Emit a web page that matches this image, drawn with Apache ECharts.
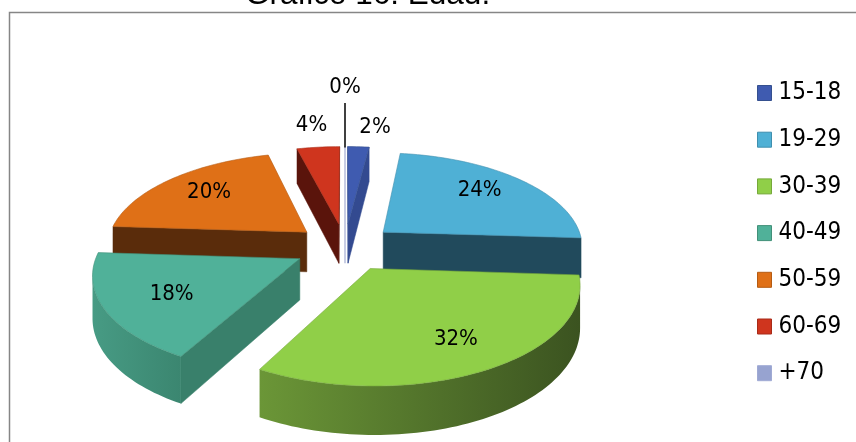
<!DOCTYPE html>
<html>
<head>
<meta charset="utf-8">
<script src="https://cdn.jsdelivr.net/npm/echarts@6/dist/echarts.min.js"></script>
<style>
html, body { margin: 0; padding: 0; background: #fff; }
#chart { width: 856px; height: 442px; }
</style>
</head>
<body>
<div id="chart"></div>
<script>
const categories = ['15-18', '19-29', '30-39', '40-49', '50-59', '60-69', '+70'];
const values = [2, 24, 32, 18, 20, 4, 0];

const topColors = ['#3f5bb0', '#4fb0d5', '#90cf48', '#50b199', '#df7017', '#cf351e', '#97a3d0'];
const edgeColors = ['#35508f', '#3f8fae', '#76a83a', '#429079', '#b55b12', '#a82b18', '#a0aad4'];
const wallColors = ['#334a90', '#214a5c', '#3d5620', '#39806b', '#5a2c0b', '#5a140b', '#c8cde4'];
const arcWallLeft = ['#334a90', '#214a5c', '#6b9637', '#479b84', '#5a2c0b', '#5a140b', '#c8cde4'];
const arcWallRight = ['#334a90', '#214a5c', '#3b5320', '#3b8670', '#5a2c0b', '#5a140b', '#c8cde4'];
// radial distance of each percent label, with a small pixel nudge
const labelRadius = [330, 187, 188, 180, 195, 335, 440];
const labelNudge = [[13, 7], [0, -4], [7, 3], [-3, 3], [4, 0], [1, 6], [0, 0]];
// draw order, back to front
const drawOrder = [6, 0, 5, 1, 4, 3, 2];

// fake 3d: plane coords -> screen with a bit of perspective
const cx = 345, cy = 247, R = 198, explode = 50, tilt = 0.47, persp = 0.0007, depth = 40;
function project(px, py, z) {
  const s = 1 / (1 - (py + 19) * persp);
  return [cx + px * s, cy + py * tilt * s + (z ? depth * s : 0)];
}

const total = values.reduce((a, b) => a + b, 0);
let acc = 0;
const slices = values.map(v => {
  const start = acc / total * Math.PI * 2;
  acc += v;
  return { start, end: acc / total * Math.PI * 2 };
});

function renderSlice(i, api) {
  const { start, end } = slices[i];
  const mid = (start + end) / 2;
  const ox = Math.sin(mid) * explode, oy = -Math.cos(mid) * explode;
  const at = (a, r, z) => project(ox + Math.sin(a) * r, oy - Math.cos(a) * r, z);
  const apexTop = at(0, 0, false), apexBot = at(0, 0, true);
  const children = [];

  const arcTop = [], arcBot = [];
  const steps = Math.max(2, Math.round((end - start) * 40));
  for (let k = 0; k <= steps; k++) {
    const a = start + (end - start) * k / steps;
    arcTop.push(at(a, R, false));
    arcBot.push(at(a, R, true));
  }

  if (values[i] === 0) {
    // empty slice only leaves a thin line
    children.push({
      type: 'line',
      shape: { x1: arcTop[0][0], y1: arcTop[0][1], x2: apexBot[0], y2: apexBot[1] },
      style: { stroke: wallColors[i], lineWidth: 2 }
    });
  } else {
    const quad = (a, b, c, d) => ({
      type: 'polygon',
      shape: { points: [a, b, c, d] },
      style: { fill: wallColors[i], stroke: wallColors[i], lineWidth: 0.5 }
    });
    const first = arcTop[0], last = arcTop[arcTop.length - 1];
    if (first[0] < apexTop[0]) children.push(quad(apexTop, first, arcBot[0], apexBot));
    if (apexTop[0] < last[0]) children.push(quad(last, apexTop, apexBot, arcBot[arcBot.length - 1]));

    // outer wall, only where the arc runs right to left
    const vt = [], vb = [];
    for (let k = 0; k < arcTop.length; k++) {
      const goingLeft = (k > 0 && arcTop[k][0] < arcTop[k - 1][0]) ||
        (k < arcTop.length - 1 && arcTop[k + 1][0] < arcTop[k][0]);
      if (goingLeft) { vt.push(arcTop[k]); vb.push(arcBot[k]); }
    }
    if (vt.length > 1) {
      children.push({
        type: 'polygon',
        shape: { points: vt.concat(vb.slice().reverse()) },
        style: {
          fill: new echarts.graphic.LinearGradient(0, 0, 1, 0, [
            { offset: 0, color: arcWallLeft[i] },
            { offset: 1, color: arcWallRight[i] }
          ])
        }
      });
    }

    children.push({
      type: 'polygon',
      shape: { points: [apexTop].concat(arcTop) },
      style: { fill: topColors[i], stroke: edgeColors[i], lineWidth: 0.6 }
    });
  }

  if (values[i] === 0) {
    const a = project(ox, oy - 195, false), b = project(ox, oy - 335, false);
    children.push({
      type: 'line',
      shape: { x1: a[0], y1: a[1], x2: b[0], y2: b[1] },
      style: { stroke: '#000', lineWidth: 1.5 }
    });
  }

  const lp = project(Math.sin(mid) * labelRadius[i], -Math.cos(mid) * labelRadius[i], false);
  children.push({
    type: 'text',
    z2: 50,
    style: {
      text: Math.round(api.value(0)) + '%',
      x: lp[0] + labelNudge[i][0],
      y: lp[1] + labelNudge[i][1],
      fill: '#000',
      font: '22px "DejaVu Sans Condensed"',
      align: 'center',
      verticalAlign: 'middle'
    }
  });
  return { type: 'group', children };
}

const seriesData = drawOrder.map((i, n) => ({
  name: categories[i],
  type: 'custom',
  coordinateSystem: 'none',
  z: 2 + n,
  silent: true,
  animation: false,
  itemStyle: { color: topColors[i] },
  data: [[values[i]]],
  renderItem: (params, api) => renderSlice(i, api)
}));

const option = {
  animation: false,
  title: {
    text: 'Gráfico 16: Edad.',
    left: 240,
    top: -26,
    textStyle: { color: '#000', fontFamily: 'Liberation Sans', fontSize: 31.5, fontWeight: 'normal' }
  },
  legend: {
    orient: 'vertical',
    left: 752,
    top: 76,
    itemWidth: 14,
    itemHeight: 15,
    itemGap: 22.7,
    icon: 'rect',
    data: categories.map((name, i) => ({
      name,
      itemStyle: { color: topColors[i], borderColor: edgeColors[i], borderWidth: 1 }
    })),
    textStyle: { color: '#000', fontFamily: 'DejaVu Sans Condensed', fontSize: 24, padding: [0, 0, 0, 2] }
  },
  graphic: [{
    type: 'rect',
    z: 0,
    shape: { x: 9.5, y: 12.5, width: 860, height: 450 },
    style: { fill: '#fff', stroke: '#868686', lineWidth: 1.5 }
  }],
  series: seriesData
};

const chart = echarts.init(document.getElementById('chart'));
chart.setOption(option);
</script>
</body>
</html>
